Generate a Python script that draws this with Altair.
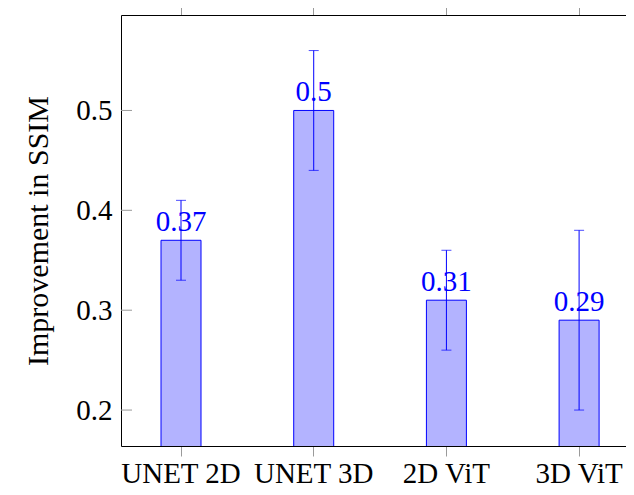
import altair as alt
import pandas as pd

categories = ["UNET 2D", "UNET 3D", "2D ViT", "3D ViT"]
values = [0.37, 0.5, 0.31, 0.29]
err_low = [0.33, 0.44, 0.26, 0.20]
err_high = [0.41, 0.56, 0.36, 0.38]
y_ticks = [0.2, 0.3, 0.4, 0.5]

df = pd.DataFrame({"cat": categories, "val": values, "lo": err_low, "hi": err_high})
tick_df = pd.DataFrame({"t": y_ticks})

W = 505
H = 431
FONT = "Liberation Serif"
BLUE = "#0000ff"
GRAY = "#9a9a9a"

xscale = alt.Scale(paddingInner=0.6986, paddingOuter=0.2521, align=0.598)
yscale = alt.Scale(domain=[0.164, 0.5956], zero=False, nice=False)

bottom_axis = alt.Axis(orient="bottom", title=None, labelAngle=0, labelFont=FONT,
                       labelFontSize=29, labelColor="black", tickColor=GRAY, tickSize=10,
                       domainColor="black", labelBaseline="alphabetic", labelPadding=26,
                       labelOverlap=False, labelLimit=300)
top_axis = alt.Axis(orient="top", title=None, labels=False, tickColor=GRAY, tickSize=10,
                    domainColor="black")
y_axis = alt.Axis(orient="left", values=y_ticks, format=".1f", ticks=False, grid=False,
                  domainColor="black", labelFont=FONT, labelFontSize=29, labelColor="black",
                  labelPadding=9, labelBaseline="middle",
                  title="Improvement in SSIM", titleFont=FONT, titleFontSize=30,
                  titleFontWeight="normal", titleColor="black", titleAngle=270,
                  titleX=-83, titleY=H / 2, titleAlign="center", titleBaseline="middle")

def X(axis):
    return alt.X("cat:N", sort=categories, scale=xscale, axis=axis)

bars = alt.Chart(df).mark_bar(fill="#b3b3ff", stroke=BLUE, strokeWidth=1, clip=True).encode(
    x=X(bottom_axis), y=alt.Y("val:Q", scale=yscale, axis=y_axis))

text = alt.Chart(df).mark_text(font=FONT, fontSize=29, color=BLUE, baseline="alphabetic",
                               dy=-9).encode(
    x=X(None), y=alt.Y("val:Q", scale=yscale, axis=None), text=alt.Text("val:Q"))

rule = alt.Chart(df).mark_rule(color=BLUE, strokeWidth=1).encode(
    x=X(top_axis), y=alt.Y("lo:Q", scale=yscale, axis=None), y2="hi:Q")

cap_lo = alt.Chart(df).mark_tick(color=BLUE, size=10, thickness=1).encode(
    x=X(None), y=alt.Y("lo:Q", scale=yscale, axis=None))
cap_hi = alt.Chart(df).mark_tick(color=BLUE, size=10, thickness=1).encode(
    x=X(None), y=alt.Y("hi:Q", scale=yscale, axis=None))

ytick_left = alt.Chart(tick_df).mark_rule(color=GRAY, strokeWidth=1).encode(
    y=alt.Y("t:Q", scale=yscale, axis=None), x=alt.value(0), x2=alt.value(11))

chart = alt.layer(bars, text, rule, cap_lo, cap_hi, ytick_left).resolve_axis(
    x="independent", y="independent"
).properties(
    width=W, height=H,
    autosize=alt.AutoSizeParams(type="none"),
    padding={"left": 113, "top": 7, "right": 0, "bottom": 48},
    background="white",
).configure_view(stroke=None)

chart.save("out.html", embed_options={"renderer": "svg", "actions": False})
